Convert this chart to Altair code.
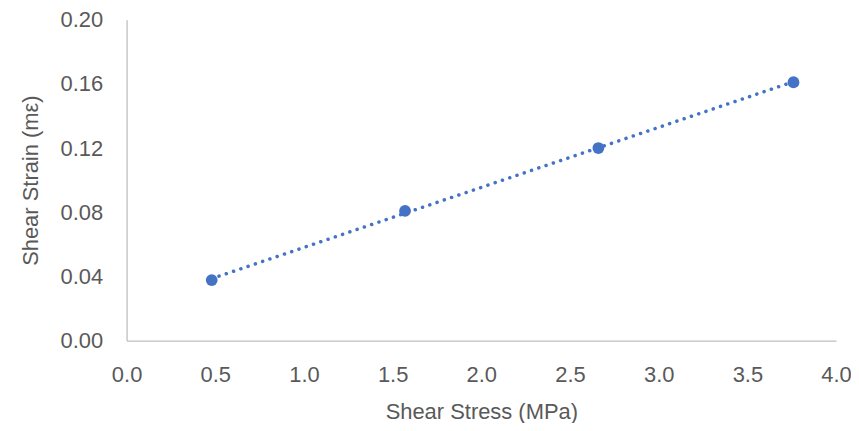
import altair as alt
import pandas as pd

stress = [0.48, 1.57, 2.66, 3.76]
strain = [0.0377, 0.0808, 0.1200, 0.1610]

df = pd.DataFrame({"stress": stress, "strain": strain})

color = "#4472C4"
font = "Liberation Sans"
fs = 22

x_enc = alt.X("stress:Q", title="Shear Stress (MPa)",
              scale=alt.Scale(domain=[0, 4.0], nice=False),
              axis=alt.Axis(values=[0, 0.5, 1.0, 1.5, 2.0, 2.5, 3.0, 3.5, 4.0], format=".1f",
                            grid=False, ticks=False, domainColor="#BFBFBF", domainWidth=1.3,
                            labelFlush=False, labelOverlap=False,
                            labelFont=font, labelFontSize=fs, labelColor="#595959", labelPadding=24,
                            titleFont=font, titleFontSize=fs, titleColor="#595959", titleFontWeight="normal",
                            titlePadding=16))
y_enc = alt.Y("strain:Q", title="Shear Strain (mε)",
              scale=alt.Scale(domain=[0, 0.2], nice=False),
              axis=alt.Axis(values=[0, 0.04, 0.08, 0.12, 0.16, 0.2], format=".2f",
                            grid=False, ticks=False, domainColor="#BFBFBF", domainWidth=1.3,
                            labelFlush=False, labelOverlap=False,
                            labelFont=font, labelFontSize=fs, labelColor="#595959", labelPadding=24,
                            titleFont=font, titleFontSize=fs, titleColor="#595959", titleFontWeight="normal",
                            titlePadding=18))

base = alt.Chart(df)

trend = base.transform_regression("stress", "strain").mark_line(
    color=color, strokeWidth=3.5, strokeDash=[0.1, 7.6], strokeCap="round"
).encode(x=x_enc, y=y_enc)

pts = base.mark_point(filled=True, size=140, color=color, opacity=1).encode(x=x_enc, y=y_enc)

chart = (trend + pts).properties(
    width=712, height=322,
    background="white",
    autosize=alt.AutoSizeParams(type="none"),
    padding={"left": 119, "top": 11, "right": 15, "bottom": 82},
).configure_view(strokeWidth=0, stroke=None)

chart.save("out.html", embed_options={"renderer": "svg", "actions": False})
